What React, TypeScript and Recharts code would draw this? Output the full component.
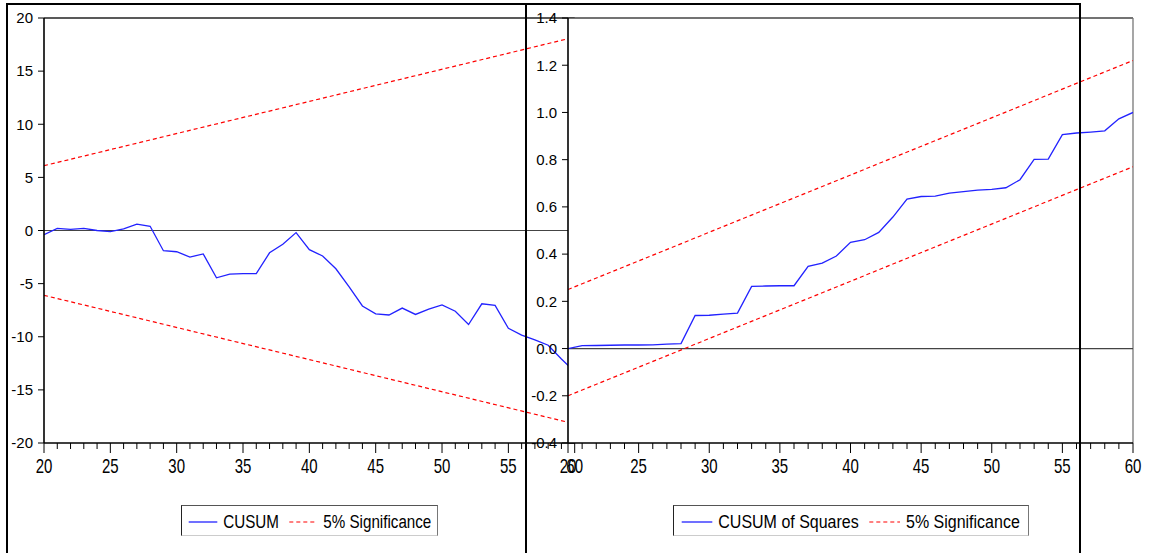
import React from 'react';
import { LineChart, Line, XAxis, YAxis, ReferenceLine, CartesianGrid } from 'recharts';

const periods = [20, 21, 22, 23, 24, 25, 26, 27, 28, 29, 30, 31, 32, 33, 34, 35, 36, 37, 38, 39, 40, 41, 42, 43, 44, 45, 46, 47, 48, 49, 50, 51, 52, 53, 54, 55, 56, 57, 58, 59, 60];
const cusum = [-0.4, 0.2, 0.1, 0.2, 0.0, -0.1, 0.15, 0.6, 0.4, -1.9, -2.0, -2.5, -2.2, -4.45, -4.1, -4.05, -4.05, -2.1, -1.3, -0.2, -1.8, -2.4, -3.6, -5.3, -7.1, -7.85, -7.95, -7.3, -7.9, -7.4, -7.0, -7.6, -8.85, -6.9, -7.05, -9.2, -9.85, -10.3, -10.8, -12.1, -13.3];
const cusumSq = [0.0, 0.012, 0.013, 0.014, 0.015, 0.015, 0.016, 0.019, 0.021, 0.14, 0.141, 0.146, 0.15, 0.263, 0.265, 0.266, 0.266, 0.348, 0.362, 0.392, 0.45, 0.461, 0.492, 0.557, 0.633, 0.644, 0.646, 0.658, 0.665, 0.671, 0.674, 0.681, 0.715, 0.801, 0.802, 0.906, 0.913, 0.917, 0.922, 0.973, 1.0];
const boundT = [20, 60];
const cusumUpper = [6.1, 18.2];
const cusumLower = [-6.1, -18.2];
const sqUpper = [0.25, 1.22];
const sqLower = [-0.2, 0.77];
const xLabels = [20, 25, 30, 35, 40, 45, 50, 55, 60];
const leftYTicks = [-20, -15, -10, -5, 0, 5, 10, 15, 20];
const rightYTicks = [-0.4, -0.2, 0, 0.2, 0.4, 0.6, 0.8, 1.0, 1.2, 1.4];

const FONT = '"Liberation Sans", Arial, sans-serif';
const BLUE = '#2222ff';
const RED = '#ff0000';

const cusumData = periods.map((t, i) => ({ t, v: cusum[i] }));
const cusumSqData = periods.map((t, i) => ({ t, v: cusumSq[i] }));
const mk = (vals: number[]) => boundT.map((t, i) => ({ t, v: vals[i] }));

const XTick = (props: any) => {
  const { x, y, payload } = props;
  const v = payload.value;
  const major = xLabels.includes(v);
  return (
    <g>
      <line x1={x} x2={x} y1={y} y2={y + (major ? 10 : 6)} stroke="#000" strokeWidth={1} />
      {major && (
        <text transform={`translate(${x},${y + 29.5}) scale(1,1.32)`} x={0} y={0} textAnchor="middle" fontSize={15} fontFamily={FONT} fill="#000">{v}</text>
      )}
    </g>
  );
};

const yTickStyle = { fontSize: 15, fill: '#000', fontFamily: FONT };

function LegendBox(props: { left: number; width: number; label: string; fs: number; sy: number; sigStart: number; blueStart: number; blueEnd: number; textStart: number; redStart: number; redEnd: number }) {
  const p = props;
  return (
    <div style={{ position: 'absolute', left: p.left, top: 505, width: p.width, height: 31, background: '#fff', borderLeft: '1px solid #222', borderTop: '1px solid #555', borderRight: '1px solid #777', borderBottom: '1px solid #ccc', boxSizing: 'border-box' }}>
      <svg width={p.width} height={31} style={{ position: 'absolute', left: -1, top: -1, overflow: 'visible' }}>
        <line x1={p.blueStart} x2={p.blueEnd} y1={17} y2={17} stroke={BLUE} strokeWidth={1.3} />
        <text transform={`translate(${p.textStart},22.5) scale(1,${p.sy})`} fontSize={p.fs} fontFamily={FONT} fill="#000">{p.label}</text>
        <line x1={p.redStart} x2={p.redEnd} y1={17} y2={17} stroke={RED} strokeWidth={1.2} strokeDasharray="4 3" />
        <text transform={`translate(${p.sigStart},22.5) scale(1,${p.sy})`} fontSize={p.fs} fontFamily={FONT} fill="#000">5% Significance</text>
      </svg>
    </div>
  );
}

export default function App() {
  return (
    <div style={{ position: 'absolute', left: 0, top: 0, width: 1150, height: 553, background: '#fff', overflow: 'hidden' }}>
      <div style={{ position: 'absolute', left: 0, top: 0 }}>
        <LineChart width={600} height={553} margin={{ top: 18, right: 25.3, left: 0, bottom: 0 }}>
          <XAxis dataKey="t" type="number" domain={[20, 60]} ticks={periods} interval={0} allowDataOverflow
            tick={<XTick />} tickLine={false} tickSize={0} tickMargin={0} height={110}
            axisLine={{ stroke: '#000', strokeWidth: 1.6 }} />
          <YAxis type="number" domain={[-20, 20]} ticks={leftYTicks} interval={0} width={44} allowDataOverflow
            tick={yTickStyle} tickSize={6} tickMargin={5} tickLine={{ stroke: '#000' }}
            axisLine={{ stroke: '#000', strokeWidth: 1.6 }} />
          <ReferenceLine y={20} stroke="#222" strokeWidth={1.5} />
          <ReferenceLine y={0} stroke="#444" strokeWidth={1.2} />
          <Line data={cusumData} dataKey="v" stroke={BLUE} strokeWidth={1.3} dot={false} isAnimationActive={false} />
          <Line data={mk(cusumUpper)} dataKey="v" stroke={RED} strokeWidth={1.2} strokeDasharray="4 3" dot={false} isAnimationActive={false} />
          <Line data={mk(cusumLower)} dataKey="v" stroke={RED} strokeWidth={1.2} strokeDasharray="4 3" dot={false} isAnimationActive={false} />
        </LineChart>
      </div>
      <div style={{ position: 'absolute', left: 500, top: 0 }}>
        <LineChart width={650} height={553} margin={{ top: 18, right: 17, left: 0, bottom: 0 }}>
          <CartesianGrid horizontal={false} vertical={false} fill="#fff" stroke="none" />
          <XAxis dataKey="t" type="number" domain={[20, 60]} ticks={periods} interval={0} allowDataOverflow
            tick={<XTick />} tickLine={false} tickSize={0} tickMargin={0} height={110}
            axisLine={{ stroke: '#000', strokeWidth: 1.6 }} />
          <YAxis type="number" domain={[-0.4, 1.4]} ticks={rightYTicks} interval={0} width={68} allowDataOverflow
            tick={yTickStyle} tickSize={6} tickMargin={5} tickLine={{ stroke: '#000' }}
            tickFormatter={(v: number) => v.toFixed(1)}
            axisLine={{ stroke: '#000', strokeWidth: 1.6 }} />
          <ReferenceLine y={1.4} stroke="#444" strokeWidth={1.3} />
          <ReferenceLine x={60} stroke="#777" strokeWidth={1.3} />
          <ReferenceLine y={0} stroke="#444" strokeWidth={1.2} />
          <Line data={cusumSqData} dataKey="v" stroke={BLUE} strokeWidth={1.3} dot={false} isAnimationActive={false} />
          <Line data={mk(sqUpper)} dataKey="v" stroke={RED} strokeWidth={1.2} strokeDasharray="4 3" dot={false} isAnimationActive={false} />
          <Line data={mk(sqLower)} dataKey="v" stroke={RED} strokeWidth={1.2} strokeDasharray="4 3" dot={false} isAnimationActive={false} />
        </LineChart>
      </div>
      <LegendBox left={181} width={257} label="CUSUM" fs={15.2} sy={1.2} textStart={42.3} blueStart={7.7} blueEnd={36.3}
        redStart={108.3} redEnd={135.7} sigStart={142.3} />
      <LegendBox left={673} width={356} label="CUSUM of Squares" fs={16} sy={1.17} textStart={45.3} blueStart={8.7} blueEnd={39.3}
        redStart={196.3} redEnd={227} sigStart={233} />
      <div style={{ position: 'absolute', left: 6, top: 3, width: 1075, height: 2.2, background: '#000' }} />
      <div style={{ position: 'absolute', left: 6, top: 3, width: 2.2, height: 550, background: '#000' }} />
      <div style={{ position: 'absolute', left: 525.2, top: 3, width: 2.3, height: 550, background: '#000' }} />
      <div style={{ position: 'absolute', left: 1078.8, top: 3, width: 2.2, height: 550, background: '#000' }} />
    </div>
  );
}
